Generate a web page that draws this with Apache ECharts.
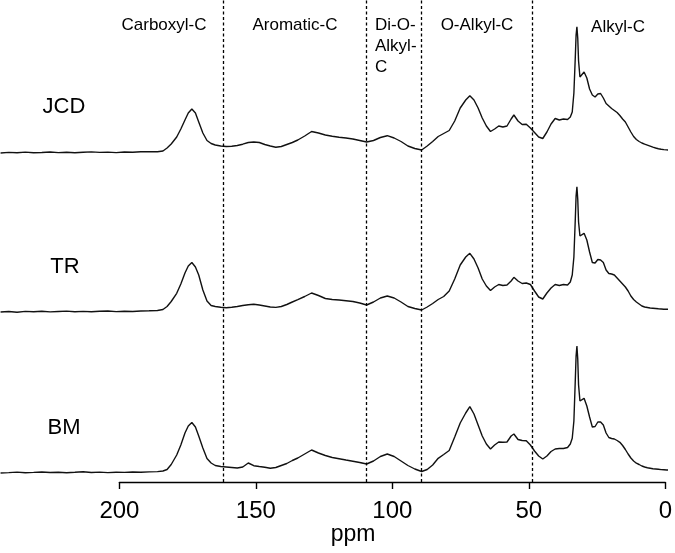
<!DOCTYPE html>
<html><head><meta charset="utf-8">
<script src="https://cdn.jsdelivr.net/npm/echarts@6/dist/echarts.min.js"></script>
<style>html,body{margin:0;padding:0;background:#fff}#c{width:675px;height:553px}</style>
</head><body><div id="c"></div>
<script>
// chemical shift grid (ppm)
const ppm = [
  243,240,237,234,231,228,225,222,219,216,213,210,207,204,201,198,195,192,189,186,
  184,182.5,181,179,177.5,176,174.8,173.5,172.2,171,169.5,168,166.5,165,
  163,161,159,157,155,153,151,149,147,145,143,141,139,137,135,
  132.5,130,127.5,125,122.5,120,117.5,115,112.5,110,107.5,105,102.5,100,97.5,95,92.5,90,
  88,86,84,82,80,78,76,74,72.5,71,69.5,68,66.5,65,63.5,62,60.5,59,57.5,56.5,55,53.5,52,50.5,49,47.5,46,44.5,43,41.5,40,38.5,37,36,
  35.3,34.7,34.2,33.9,33.6,33.3,33.0,32.5,31.8,31,
  30,29,28,27,26,25,24,23,22,21,20,19,18,17,16,15,14,13,12,11,10,9,8,7,6,5,4,3,2,1,0.5
];
const jcd = [
  0,0.6,0.2,0.9,0.3,0.5,1,0.4,0.8,0.2,0.7,1.1,0.6,0.9,0.4,1,0.7,1.2,1.4,1.2,
  2,5,9,16,24,33,40,44,40,31,20,12.5,9.5,8,
  7,6.5,6.8,7.5,8.8,10.5,11,10.5,8.5,7,5.8,6.5,8.5,10.5,13,
  17,21.5,20,18,16.8,15.8,15,14,12.5,11,12.5,15.5,17.3,15,11.5,7,4.5,3,
  7,11.5,16.5,19.5,22.5,32,45,53,57.3,53,45,35,27,21.5,24,27,26,27,34,38,32,28.5,28.7,25,20.5,16,14.5,21,29,34.5,33,34,33.5,36,
  41,60,95,118,126.3,115,92,76,75,81,
  75,64,58,56,59,59.5,55,49.5,47,44.5,42.5,40.5,37.5,34,31,26,21,16.5,13.5,11.5,10,8.8,7.8,6.8,5.8,5,4.3,3.8,3.4,3.1,3
];
const tr = [
  0,0.5,-0.3,0.6,0.2,0.8,0.1,0.5,0.9,0.3,0.6,0.2,0.7,1,0.4,0.8,0.5,1,1.2,1.5,
  2.5,5.5,10.5,18.7,28,39,46,49.5,45,37,22,11,6.5,5.5,
  4.8,4.3,4.8,5.5,6.5,7.3,7.7,7,6,5,4.6,5.5,7.5,10,12.3,
  15.5,19,16.5,13.5,12.5,12,11.3,10.5,9,7,10,14,16,14,10,5.5,3.5,2,
  5,8.5,12.5,15.5,21,33,47,55,58.7,53,44,33,26,21.5,25,27.5,26.5,27,31,34.7,31,28.5,29,27.5,21,15,13,19,24,27.5,26.5,27.5,27,30,
  37,55,92,116,125.3,113,90,76,74,78.7,
  72,60,49.5,49,52.5,52,49.5,42,38.5,38,37,34,31,28,25,21,16,12.5,10,8,6,5,4.5,4,3.8,3.5,3.2,3,2.8,2.7,2.7
];
const bm = [
  0,0.4,0.9,0.3,0.6,1,0.5,0.8,0.3,0.7,1.2,0.5,0.9,0.4,0.8,0.6,1,0.7,1.1,1.4,
  2,3.5,8.5,18,28,40,47,50.5,46,37,25,14.5,10,7.5,
  6.5,6,5.5,5,6,10,7.3,6.5,5.8,4.8,5.5,7.5,9.5,12.5,15,
  19,23,20,17.5,15.5,14.3,13,11.8,10.5,9,12,16.5,19,16.5,12,7.5,4,1.5,
  3.5,8,14.7,18.5,22.5,36,50,60,66.3,59,48,37,29,24,28,31,30.7,31,37,39,33.5,32.5,32.3,28,22,17,14,17,21.5,24,24.5,24.5,25.5,29,
  34.7,52,92,117,127,114,88,72,71,74.7,
  67,56,46,46.5,51,51,48,40,35.5,34.5,34,32.5,30.7,27.5,23.5,19,15,12,9.8,8.5,7,6,5.3,4.8,4.3,4,3.7,3.4,3.2,3,3
];
const sampleNames = ['JCD','TR','BM'];
const xTicks = [0,50,100,150,200];
const boundaries = [162,110,90,50];
const regionLabels = ['Carboxyl-C','Aromatic-C','Di-O-\nAlkyl-\nC','O-Alkyl-C','Alkyl-C'];

const OFFSET = {JCD:329, TR:170, BM:9};
const FONT = "'Liberation Sans', Arial, sans-serif";
const chart = echarts.init(document.getElementById('c'));
function pts(vals, off){ return ppm.map((p,i)=>[p, vals[i]+off]); }
const lineCol = '#111';
function spec(name, vals){
  return {name, type:'line', xAxisIndex:0, yAxisIndex:0, data:pts(vals, OFFSET[name]),
    showSymbol:false, symbol:'none', smooth:false,
    lineStyle:{color:lineCol, width:1.4}, silent:true};
}
const series = [spec('JCD', jcd), spec('TR', tr), spec('BM', bm)];
series[0].markLine = {silent:true, symbol:['none','none'], label:{show:false},
  lineStyle:{color:'#000', width:1.3, type:[3,2.5]},
  data: boundaries.map(b=>({xAxis:b}))};
series.push({type:'line', xAxisIndex:1, yAxisIndex:1, data:[], silent:true});

function txt(t, x, y, size, align){
  return {type:'text', x, y, silent:true, style:{text:t, fill:'#000', font:size+'px '+FONT,
    align:align||'center', verticalAlign:'middle', textAlign:align||'center', textVerticalAlign:'middle'}};
}
const dLines = regionLabels[2].split('\n');
const graphics = [
  txt(regionLabels[0], 164, 25, 17),
  txt(regionLabels[1], 295, 25, 17),
  txt(dLines[0], 375, 25, 17, 'left'),
  txt(dLines[1], 375, 46, 17, 'left'),
  txt(dLines[2], 375, 67, 17, 'left'),
  txt(regionLabels[3], 477, 25, 17),
  txt(regionLabels[4], 618, 27, 17),
  txt(sampleNames[0], 64, 107, 22),
  txt(sampleNames[1], 65, 267, 22),
  txt(sampleNames[2], 64, 428, 22),
  txt('ppm', 353, 535, 23)
];

chart.setOption({
  animation:false,
  grid:[{left:0,right:5.6,top:0,bottom:71},{left:119.4,right:5.6,top:0,bottom:71}],
  xAxis:[
    {gridIndex:0,type:'value',min:0,max:243.2,inverse:true,show:false},
    {gridIndex:1,type:'value',min:0,max:200,interval:50,inverse:true,
     axisLine:{show:true,lineStyle:{color:'#000',width:1.4}},
     axisTick:{show:true,length:7,lineStyle:{color:'#000',width:1.4}},
     axisLabel:{fontSize:24,color:'#000',margin:17,fontFamily:FONT,
       formatter:v=> xTicks.includes(v)? String(v):''},
     splitLine:{show:false}}
  ],
  yAxis:[
    {gridIndex:0,type:'value',min:0,max:482,show:false},
    {gridIndex:1,type:'value',min:0,max:482,show:false}
  ],
  series,
  graphic:graphics
});
</script></body></html>
